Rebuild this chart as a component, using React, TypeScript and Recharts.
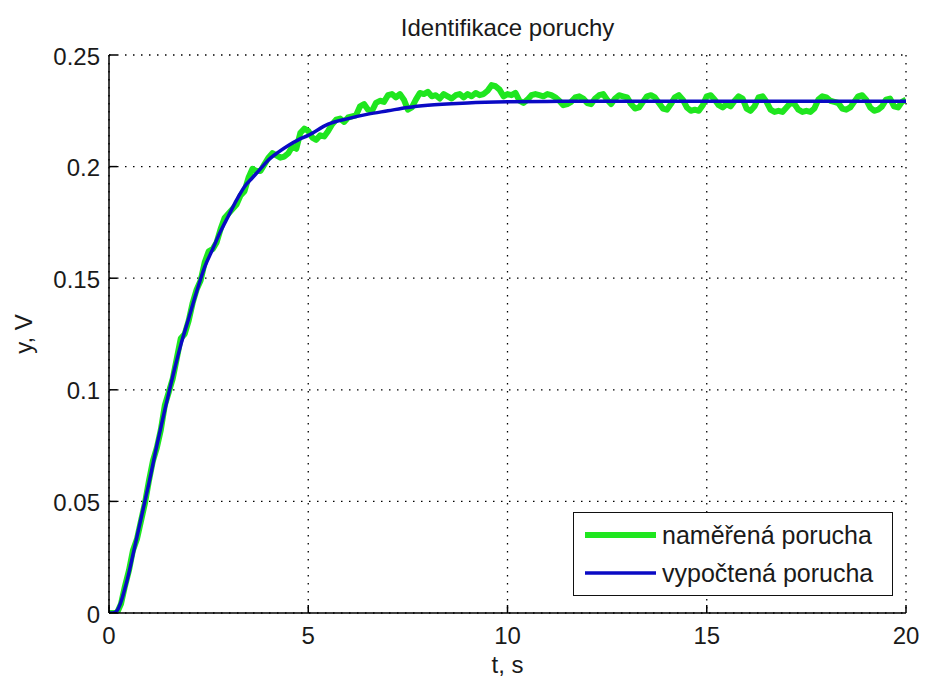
import React from 'react';
import { LineChart, Line, XAxis, YAxis, CartesianGrid, Legend, Label } from 'recharts';

// sampling step of the measured signal, s
const SAMPLE_STEP = 0.1;

// naměřená porucha, t = 0 .. 20 s
const measuredValues = [
  0, 0, 0, 0.004, 0.012, 0.019, 0.028, 0.033, 0.041, 0.049,
  0.059, 0.068, 0.074, 0.082, 0.093, 0.099, 0.105, 0.114, 0.123, 0.125,
  0.131, 0.139, 0.145, 0.149, 0.157, 0.162, 0.163, 0.166, 0.172, 0.177,
  0.179, 0.181, 0.183, 0.187, 0.189, 0.195, 0.199, 0.198, 0.198, 0.201,
  0.204, 0.206, 0.205, 0.204, 0.2045, 0.206, 0.209, 0.208, 0.215, 0.217,
  0.216, 0.213, 0.212, 0.214, 0.2135, 0.216, 0.219, 0.221, 0.2215, 0.22,
  0.222, 0.2225, 0.223, 0.227, 0.228, 0.2255, 0.225, 0.2285, 0.2295, 0.229,
  0.232, 0.2325, 0.231, 0.2325, 0.23, 0.2255, 0.2265, 0.23, 0.233, 0.2325,
  0.2335, 0.2315, 0.232, 0.2305, 0.2325, 0.2315, 0.2305, 0.232, 0.2325, 0.231,
  0.2325, 0.2315, 0.233, 0.232, 0.2325, 0.234, 0.2365, 0.236, 0.2345, 0.2315,
  0.2325, 0.232, 0.233, 0.2295, 0.2285, 0.23, 0.232, 0.2325, 0.232, 0.2315,
  0.2325, 0.232, 0.231, 0.2295, 0.2275, 0.228, 0.229, 0.231, 0.2315, 0.2305,
  0.2285, 0.228, 0.2305, 0.232, 0.2325, 0.23, 0.228, 0.2305, 0.232, 0.2315,
  0.231, 0.228, 0.226, 0.2265, 0.229, 0.2315, 0.232, 0.231, 0.2285, 0.226,
  0.2255, 0.228, 0.231, 0.232, 0.23, 0.2265, 0.225, 0.2255, 0.225, 0.2275,
  0.2315, 0.232, 0.23, 0.2275, 0.2265, 0.228, 0.227, 0.2295, 0.2315, 0.2305,
  0.226, 0.225, 0.227, 0.231, 0.2315, 0.229, 0.2255, 0.2245, 0.225, 0.2245,
  0.2265, 0.2285, 0.228, 0.2255, 0.2245, 0.225, 0.2245, 0.226, 0.23, 0.2315,
  0.231, 0.2295, 0.229, 0.2285, 0.226, 0.2255, 0.2265, 0.229, 0.2315, 0.232,
  0.23, 0.2265, 0.225, 0.2255, 0.227, 0.23, 0.2305, 0.227, 0.2265, 0.229,
  0.23,
];

// vypočtená porucha
const computedTimes = [
  0, 0.1, 0.2, 0.3, 0.4, 0.5, 0.6, 0.7, 0.8, 0.9, 1.0, 1.2, 1.4, 1.6, 1.8,
  2.0, 2.2, 2.4, 2.6, 2.8, 3.0, 3.2, 3.4, 3.6, 3.8, 4.0, 4.25, 4.5, 4.75, 5.0,
  5.5, 6.0, 6.5, 7.0, 7.5, 8.0, 9.0, 10, 11, 12, 14, 16, 18, 20,
];
const computedValues = [
  0, 0, 0.001, 0.005, 0.011, 0.018, 0.026, 0.034, 0.042, 0.05, 0.058, 0.075, 0.091, 0.106, 0.12,
  0.132, 0.144, 0.155, 0.163, 0.171, 0.178, 0.185, 0.191, 0.195, 0.199, 0.203, 0.2065, 0.2095, 0.212, 0.214,
  0.219, 0.2215, 0.2235, 0.225, 0.2265, 0.2275, 0.2285, 0.229, 0.2292, 0.2293, 0.2293, 0.2293, 0.2293, 0.2293,
];

const xTicks = [0, 5, 10, 15, 20];
const yTicks = [0, 0.05, 0.1, 0.15, 0.2, 0.25];

const seriesNames = ['naměřená porucha', 'vypočtená porucha'];

const GREEN = '#1fe61f';
const BLUE = '#0a0ac4';
const FONT = '"Liberation Sans", Arial, sans-serif';
const FONT_SIZE = 24;
const TEXT = '#1a1a1a';
const TICK_LEN = 8;

const measured = measuredValues.map((v, i) => ({ t: Math.round(i * SAMPLE_STEP * 10) / 10, v }));
const computed = computedTimes.map((t, i) => ({ t, v: computedValues[i] }));

const XTick = (props: any) => {
  const { x, y, payload } = props;
  return (
    <g>
      <line x1={x} x2={x} y1={y} y2={y - TICK_LEN} stroke="#000" strokeWidth={1.5} />
      <text x={x} y={y + 22} textAnchor="middle" dominantBaseline="central" fontSize={FONT_SIZE} fontFamily={FONT} fill={TEXT}>
        {payload.value}
      </text>
    </g>
  );
};

const YTick = (props: any) => {
  const { x, y, payload } = props;
  return (
    <g>
      <line x1={x} x2={x + TICK_LEN} y1={y} y2={y} stroke="#000" strokeWidth={1.5} />
      <text x={x - 9} y={y + 1} textAnchor="end" dominantBaseline="central" fontSize={FONT_SIZE} fontFamily={FONT} fill={TEXT}>
        {payload.value}
      </text>
    </g>
  );
};

const XLabel = (props: any) => {
  const { x, y, width } = props.viewBox;
  return (
    <text x={x + width / 2} y={y + 51} textAnchor="middle" dominantBaseline="central" fontSize={FONT_SIZE} fontFamily={FONT} fill={TEXT}>
      t, s
    </text>
  );
};

const YLabel = (props: any) => {
  const { x, y, height } = props.viewBox;
  const cx = x + 23;
  const cy = y + height / 2;
  return (
    <text x={cx} y={cy} transform={`rotate(-90 ${cx} ${cy})`} textAnchor="middle" dominantBaseline="central" fontSize={FONT_SIZE} fontFamily={FONT} fill={TEXT}>
      y, V
    </text>
  );
};

const LegendBox = () => (
  <div
    style={{
      width: 320,
      height: 84,
      boxSizing: 'border-box',
      border: '1.5px solid #111',
      background: '#fff',
      fontFamily: FONT,
      fontSize: 25,
      color: TEXT,
      paddingTop: 3,
    }}
  >
    {seriesNames.map((name, i) => (
      <div key={name} style={{ display: 'flex', alignItems: 'center', height: 38 }}>
        <svg width={88} height={20} style={{ flex: 'none' }}>
          <line x1={11} x2={82} y1={10} y2={10} stroke={i === 0 ? GREEN : BLUE} strokeWidth={i === 0 ? 6 : 3.5} />
        </svg>
        <span style={{ whiteSpace: 'nowrap' }}>{name}</span>
      </div>
    ))}
  </div>
);

export default function App() {
  return (
    <div style={{ position: 'absolute', left: 0, top: 0, width: 925, height: 686, background: '#fff' }}>
      <div
        style={{
          position: 'absolute',
          left: 109,
          width: 797,
          top: 15,
          textAlign: 'center',
          fontFamily: FONT,
          fontSize: FONT_SIZE,
          lineHeight: '25px',
          color: TEXT,
        }}
      >
        Identifikace poruchy
      </div>
      <LineChart width={925} height={686} margin={{ top: 55, right: 19, bottom: 0, left: 0 }}>
        <CartesianGrid stroke="#000" strokeWidth={1.3} strokeDasharray="1.5 6.5" />
        <XAxis
          type="number"
          dataKey="t"
          domain={[0, 20]}
          ticks={xTicks}
          interval={0}
          height={73}
          tickSize={0}
          tickMargin={0}
          tickLine={false}
          tick={<XTick />}
          axisLine={{ stroke: '#000', strokeWidth: 1.5 }}
          allowDataOverflow
        >
          <Label content={<XLabel />} />
        </XAxis>
        <YAxis
          type="number"
          domain={[0, 0.25]}
          ticks={yTicks}
          interval={0}
          width={109}
          tickSize={0}
          tickMargin={0}
          tickLine={false}
          tick={<YTick />}
          axisLine={{ stroke: '#000', strokeWidth: 1.5 }}
          allowDataOverflow
        >
          <Label content={<YLabel />} />
        </YAxis>
        <Legend
          layout="vertical"
          align="center"
          verticalAlign="middle"
          content={<LegendBox />}
          wrapperStyle={{ left: 573, top: 512, width: 320 }}
        />
        <Line
          data={measured}
          dataKey="v"
          name={seriesNames[0]}
          type="linear"
          stroke={GREEN}
          strokeWidth={6}
          strokeLinejoin="round"
          dot={false}
          activeDot={false}
          isAnimationActive={false}
        />
        <Line
          data={computed}
          dataKey="v"
          name={seriesNames[1]}
          type="monotone"
          stroke={BLUE}
          strokeWidth={3.5}
          dot={false}
          activeDot={false}
          isAnimationActive={false}
        />
      </LineChart>
    </div>
  );
}
